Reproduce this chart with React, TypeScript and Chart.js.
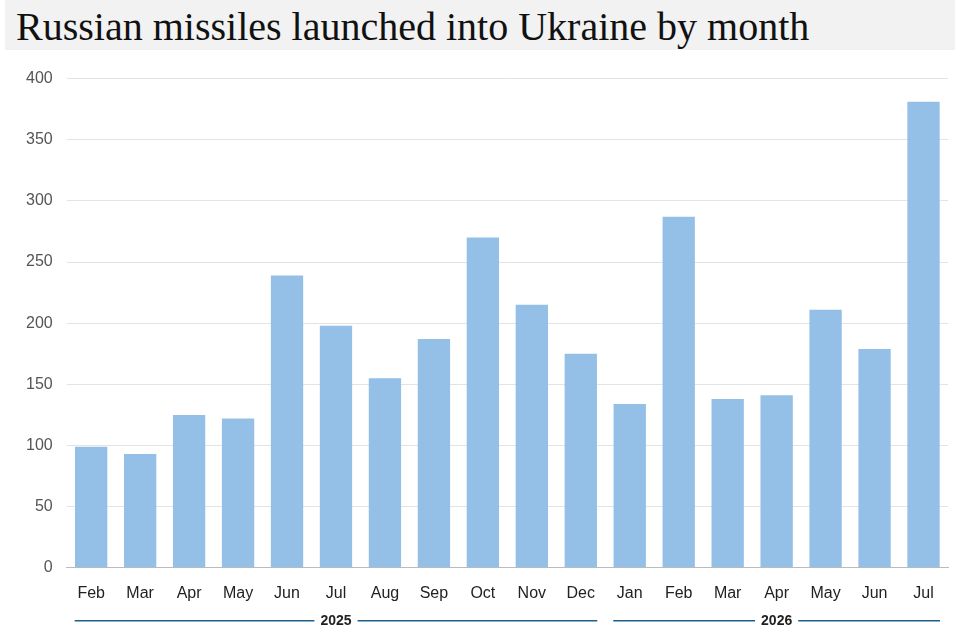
import React, { useEffect, useRef } from "react";
import { Chart, registerables } from "chart.js";
Chart.register(...registerables);

const months = ["Feb","Mar","Apr","May","Jun","Jul","Aug","Sep","Oct","Nov","Dec","Jan","Feb","Mar","Apr","May","Jun","Jul"];
const missiles = [99, 93, 125, 122, 239, 198, 155, 187, 270, 215, 175, 134, 287, 138, 141, 211, 179, 381];
const yearGroups = [
  { label: "2025", from: 0, to: 10 },
  { label: "2026", from: 11, to: 17 },
];

const yearPlugin = {
  id: "years",
  afterDraw(chart: any) {
    const ctx = chart.ctx;
    const x = chart.scales.x;
    const half = x.getPixelForValue(1) - x.getPixelForValue(0);
    const y = chart.chartArea.bottom + 53;
    ctx.save();
    ctx.font = "bold 14px 'Liberation Sans', Arial, sans-serif";
    ctx.textAlign = "center";
    ctx.textBaseline = "middle";
    for (const g of yearGroups) {
      const l = x.getPixelForValue(g.from) - half * 0.5 + 8;
      const r = x.getPixelForValue(g.to) + half * 0.5 - 8;
      const c = (l + r) / 2;
      const w = ctx.measureText(g.label).width / 2 + 6;
      ctx.strokeStyle = "#1d5f8a";
      ctx.lineWidth = 1.5;
      ctx.beginPath();
      ctx.moveTo(l, y); ctx.lineTo(c - w, y);
      ctx.moveTo(c + w, y); ctx.lineTo(r, y);
      ctx.stroke();
      ctx.fillStyle = "#222";
      ctx.fillText(g.label, c, y);
    }
    ctx.restore();
  },
};

export default function App() {
  const ref = useRef<HTMLCanvasElement>(null);
  useEffect(() => {
    const chart = new Chart(ref.current!, {
      type: "bar",
      data: { labels: months, datasets: [{ data: missiles, backgroundColor: "#94bfe6", categoryPercentage: 0.66, barPercentage: 1 }] },
      options: {
        animation: false,
        responsive: false,
        maintainAspectRatio: false,
        layout: { padding: { top: 7, bottom: 29, right: 12, left: 12 } },
        plugins: { legend: { display: false }, tooltip: { enabled: false } },
        scales: {
          x: {
            grid: { display: false },
            border: { color: "#bbb" },
            ticks: { color: "#222", font: { size: 16, family: "'Liberation Sans', Arial, sans-serif" }, padding: 8 },
          },
          y: {
            min: 0, max: 400,
            ticks: { stepSize: 50, color: "#555", font: { size: 16, family: "'Liberation Sans', Arial, sans-serif" }, padding: 14 },
            grid: { color: "#e3e3e3", drawTicks: false },
            border: { display: false },
          },
        },
      },
      plugins: [yearPlugin],
    });
    return () => chart.destroy();
  }, []);
  return (
    <div style={{ position: "absolute", left: 0, top: 0, width: 965, height: 640, background: "#fff" }}>
      <div style={{ position: "absolute", left: 5, top: 0, width: 950, height: 50, background: "#f2f2f2" }} />
      <div style={{ position: "absolute", left: 16, top: 3, fontFamily: "'Liberation Serif', 'DejaVu Serif', serif", fontSize: 40, color: "#111", whiteSpace: "nowrap" }}>
        Russian missiles launched into Ukraine by month
      </div>
      <canvas ref={ref} width={960} height={585} style={{ position: "absolute", left: 0, top: 55 }} />
    </div>
  );
}
